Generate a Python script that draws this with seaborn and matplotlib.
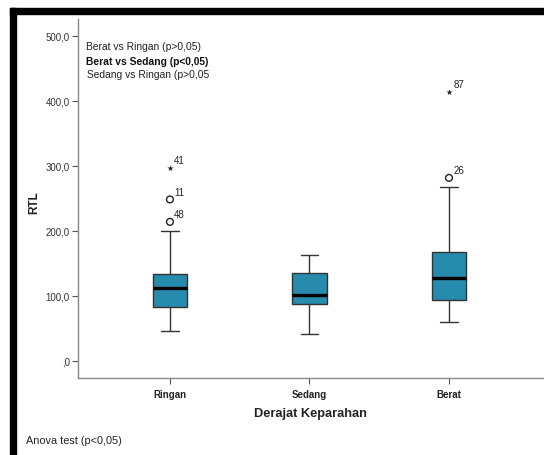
import matplotlib
matplotlib.use("Agg")
from matplotlib import pyplot as plt
from matplotlib.patches import Rectangle
import seaborn as sns
import pandas as pd

# Kategori dan statistik boxplot
kategori = ["Ringan", "Sedang", "Berat"]
whisker_bawah = [44.8, 40.9, 59.7]
kuartil_1 = [82.3, 86.5, 93.5]
median = [112.0, 100.9, 126.9]
kuartil_3 = [133.5, 134.9, 167.4]
whisker_atas = [199.7, 163.0, 267.8]

# Outlier (o) dan ekstrem (*)
outlier_kategori = ["Ringan", "Ringan", "Ringan", "Berat", "Berat"]
outlier_nilai = [213.5, 248.0, 296.0, 281.2, 413.0]
outlier_id = ["48", "11", "41", "26", "87"]
outlier_ekstrem = [False, False, True, False, True]

y_ticks = [0, 100, 200, 300, 400, 500]

# Data panjang: 5 titik per kelompok -> kuartil tepat
baris = []
for i, k in enumerate(kategori):
    for v in [whisker_bawah[i], kuartil_1[i], median[i], kuartil_3[i], whisker_atas[i]]:
        baris.append({"Derajat Keparahan": k, "RTL": v})
df = pd.DataFrame(baris)

sns.set_style("white")
plt.rcParams["font.family"] = ["Liberation Sans", "DejaVu Sans"]

fig = plt.figure(figsize=(5.44, 4.56), dpi=100)
ax = fig.add_axes([78 / 544, 1 - 379 / 456, 1 - 78 / 544, (379 - 20) / 456])

warna_box = "#268bad"
sns.boxplot(data=df, x="Derajat Keparahan", y="RTL", order=kategori, ax=ax,
            width=0.25, color=warna_box, saturation=1, showfliers=False,
            linewidth=1, linecolor="#333333",
            medianprops={"color": "black", "linewidth": 2.4})

# outlier
for g, v, lbl, eks in zip(outlier_kategori, outlier_nilai, outlier_id, outlier_ekstrem):
    xpos = kategori.index(g)
    if eks:
        ax.scatter(xpos, v, marker="*", s=22, color="#222222", zorder=5, linewidths=0)
    else:
        ax.scatter(xpos, v, marker="o", s=24, facecolors="none", edgecolors="#222222",
                   linewidths=1, zorder=5)
    ax.annotate(lbl, (xpos, v), xytext=(3, 3.5), textcoords="offset points",
                fontsize=7, color="#222222")

ax.set_xlim(-0.659, 2.681)
ax.set_ylim(-26.9, 525.8)
ax.set_yticks(y_ticks)
ax.set_yticklabels([",0" if t == 0 else f"{t},0" for t in y_ticks], fontsize=7, color="#333333")
ax.set_xticks(range(len(kategori)))
ax.set_xticklabels(kategori, fontsize=7, fontweight="bold", color="#222222")
ax.tick_params(axis="both", length=4.5, width=0.8, color="#555555")
ax.tick_params(axis="y", direction="out", left=True, pad=1.5)
ax.tick_params(axis="x", direction="out", bottom=True, pad=3.5)
ax.set_xlabel("")
ax.set_ylabel("")
for s in ["top", "right"]:
    ax.spines[s].set_visible(False)
for s in ["left", "bottom"]:
    ax.spines[s].set_color("#888888")
    ax.spines[s].set_linewidth(1)

# label sumbu
fig.text(310 / 544, 1 - 414 / 456, "Derajat Keparahan", ha="center", va="center",
         fontsize=9.2, fontweight="bold", color="#222222")
fig.text(34 / 544, 1 - 203 / 456, "RTL", ha="center", va="center", rotation=90,
         fontsize=8.5, fontweight="bold", color="#222222")

# keterangan uji
fig.text(86 / 544, 1 - 47 / 456, "Berat vs Ringan (p>0,05)", va="center", fontsize=7.4, color="#222222")
fig.text(86 / 544, 1 - 62 / 456, "Berat vs Sedang (p<0,05)", va="center", fontsize=7.4,
         fontweight="bold", color="#111111")
fig.text(87 / 544, 1 - 75 / 456, "Sedang vs Ringan (p>0,05", va="center", fontsize=7.4, color="#222222")
fig.text(26.5 / 544, 1 - 441 / 456, "Anova test (p<0,05)", va="center", fontsize=7.8, color="#222222")

# bingkai hitam atas dan kiri
fig.add_artist(Rectangle((10 / 544, 1 - 15 / 456), 1, 6 / 456, transform=fig.transFigure,
                         color="black", zorder=10))
fig.add_artist(Rectangle((10 / 544, 0), 6 / 544, 1 - 9 / 456, transform=fig.transFigure,
                         color="black", zorder=10))

fig.savefig("out.png", dpi=100)
